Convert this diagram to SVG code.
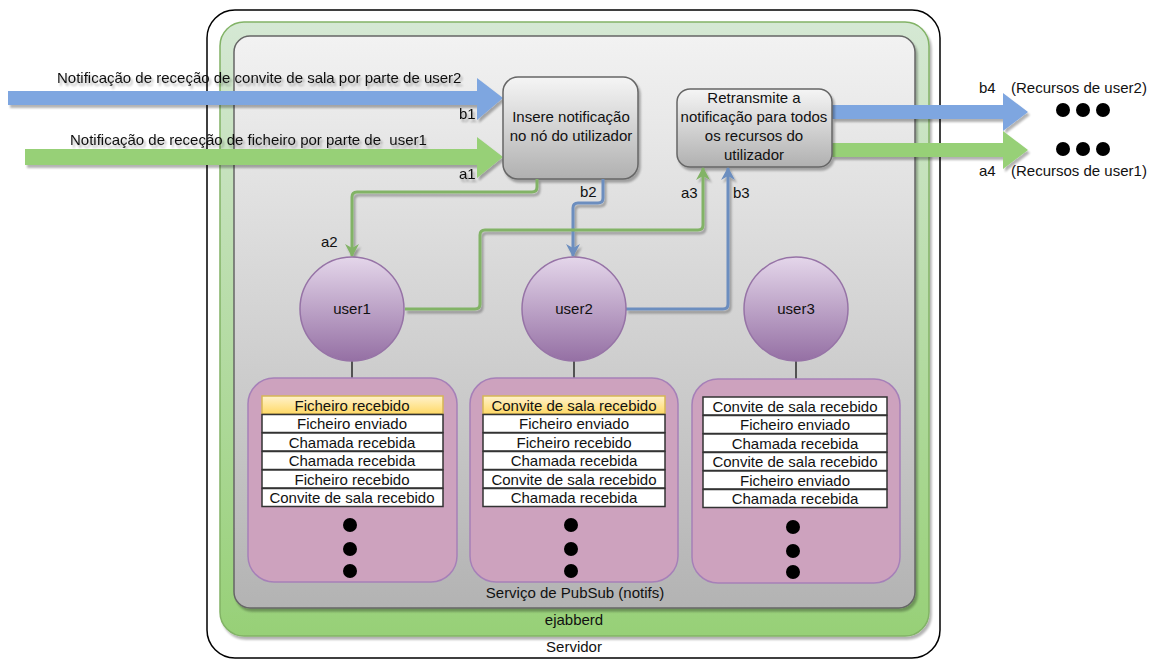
<svg xmlns="http://www.w3.org/2000/svg" width="1153" height="659" viewBox="0 0 1153 659">
<defs>
<linearGradient id="gPub" x1="0" y1="0" x2="0" y2="1"><stop offset="0" stop-color="#f2f2f2"/><stop offset="1" stop-color="#b3b3b3"/></linearGradient>
<linearGradient id="gEj" x1="0" y1="0" x2="0" y2="1"><stop offset="0" stop-color="#d5e8d4"/><stop offset="1" stop-color="#97d077"/></linearGradient>
<linearGradient id="gBox" x1="0" y1="0" x2="0" y2="1"><stop offset="0" stop-color="#f5f5f5"/><stop offset="1" stop-color="#b0b0b0"/></linearGradient>
<linearGradient id="gUser" x1="0" y1="0" x2="0" y2="1"><stop offset="0" stop-color="#e4d6ea"/><stop offset="1" stop-color="#9570a4"/></linearGradient>
<linearGradient id="gYel" x1="0" y1="0" x2="0" y2="1"><stop offset="0" stop-color="#fff2cc"/><stop offset="1" stop-color="#ffd966"/></linearGradient>
<filter id="sh" x="-10%" y="-10%" width="130%" height="130%">
<feGaussianBlur in="SourceAlpha" stdDeviation="1.2"/><feOffset dx="2" dy="3"/>
<feComponentTransfer><feFuncA type="linear" slope="0.3"/></feComponentTransfer>
<feMerge><feMergeNode/><feMergeNode in="SourceGraphic"/></feMerge></filter>
<marker id="mG" markerUnits="userSpaceOnUse" markerWidth="14" markerHeight="14" refX="12" refY="7" orient="auto"><path d="M0,0 L13,7 L0,14 L4,7 z" fill="#82b366"/></marker>
<marker id="mB" markerUnits="userSpaceOnUse" markerWidth="14" markerHeight="14" refX="12" refY="7" orient="auto"><path d="M0,0 L13,7 L0,14 L4,7 z" fill="#6c8ebf"/></marker>
<style>
text{font-family:"Liberation Sans",Arial,sans-serif;font-size:15px;fill:#111;}
.c{text-anchor:middle;}
.row{fill:#fff;stroke:#333;stroke-width:1.5;}
.yel{fill:url(#gYel);stroke:#d6b656;stroke-width:1.5;}
.list{fill:#cda2be;stroke:#a680b8;stroke-width:1.5;}
.user{fill:url(#gUser);stroke:#9673a6;stroke-width:1.5;}
.dot{fill:#000;}
.g{fill:none;stroke:#82b366;stroke-width:3;}
.b{fill:none;stroke:#6c8ebf;stroke-width:3;}
</style>
</defs>

<g id="servidor">
<rect x="207" y="10" width="733" height="648" rx="28" fill="#fff" stroke="#000" stroke-width="1.5"/>
<text class="c" x="574" y="652">Servidor</text>
</g>
<g id="ejabberd">
<rect x="220" y="22" width="709" height="614" rx="24" fill="url(#gEj)" stroke="#82b366" stroke-width="1.5" filter="url(#sh)"/>
<text class="c" x="574" y="625">ejabberd</text>
</g>
<g id="pubsub">
<rect x="234" y="36" width="681" height="572" rx="16" fill="url(#gPub)" stroke="#666" stroke-width="1.5" filter="url(#sh)"/>
<text class="c" x="575" y="598">Serviço de PubSub (notifs)</text>
</g>

<g id="arrow-b1" filter="url(#sh)">
<polygon points="8,91 477,91 477,78 503,98 477,120 477,105 8,105" fill="#7ea6e0"/>
<text x="57" y="83">Notificação de receção de convite de sala por parte de user2</text>
<text x="459" y="119">b1</text>
</g>
<g id="arrow-a1" filter="url(#sh)">
<polygon points="25,149 477,149 477,137 503,157 477,178 477,165 25,165" fill="#97d077"/>
<text x="70" y="145">Notificação de receção de ficheiro por parte de&#160; user1</text>
<text x="459" y="179">a1</text>
</g>
<g id="arrow-b4" filter="url(#sh)">
<polygon points="832,105 1003,105 1003,93 1028,112 1003,131 1003,119 832,119" fill="#7ea6e0"/>
</g>
<g id="arrow-a4" filter="url(#sh)">
<polygon points="832,143 1003,143 1003,131 1028,150 1003,169 1003,157 832,157" fill="#97d077"/>
</g>

<g id="insere">
<rect x="503" y="77" width="135" height="102" rx="15" fill="url(#gBox)" stroke="#666" stroke-width="1.5" filter="url(#sh)"/>
<text class="c" x="571" y="122">Insere notificação</text>
<text class="c" x="571" y="141">no nó do utilizador</text>
</g>
<g id="retransmite">
<rect x="677" y="89" width="155" height="78" rx="13" fill="url(#gBox)" stroke="#666" stroke-width="1.5" filter="url(#sh)"/>
<text class="c" x="754" y="103">Retransmite a</text>
<text class="c" x="754" y="122">notificação para todos</text>
<text class="c" x="754" y="141">os recursos do</text>
<text class="c" x="754" y="160">utilizador</text>
</g>

<g id="recursos">
<text x="979" y="93">b4</text>
<text x="1011" y="93">(Recursos de user2)</text>
<circle class="dot" cx="1063" cy="110" r="7"/><circle class="dot" cx="1083" cy="110" r="7"/><circle class="dot" cx="1103" cy="110" r="7"/>
<circle class="dot" cx="1063" cy="149" r="7"/><circle class="dot" cx="1083" cy="149" r="7"/><circle class="dot" cx="1103" cy="149" r="7"/>
<text x="979" y="176">a4</text>
<text x="1011" y="176">(Recursos de user1)</text>
</g>

<g id="connectors">
<g filter="url(#sh)">
<path class="g" d="M537,179 V187 Q537,192 532,192 H357 Q352,192 352,197 V256" marker-end="url(#mG)"/>
<path class="b" d="M603,179 V198 Q603,203 598,203 H578 Q573,203 573,208 V256" marker-end="url(#mB)"/>
<path class="g" d="M405,309 H475 Q480,309 480,304 V235 Q480,230 485,230 H698 Q703,230 703,225 V168" marker-end="url(#mG)"/>
<path class="b" d="M626,309 H723 Q728,309 728,304 V168" marker-end="url(#mB)"/>
</g>
<line x1="352" y1="361" x2="352" y2="378" stroke="#000" stroke-width="1.2"/>
<line x1="574" y1="361" x2="574" y2="378" stroke="#000" stroke-width="1.2"/>
<line x1="796" y1="361" x2="796" y2="379" stroke="#000" stroke-width="1.2"/>
<text x="321" y="247">a2</text>
<text x="580" y="197">b2</text>
<text x="681" y="198">a3</text>
<text x="733" y="198">b3</text>
</g>

<g id="user1">
<circle class="user" cx="352" cy="309" r="52"/>
<text class="c" x="352" y="314">user1</text>
</g>
<g id="user2">
<circle class="user" cx="574" cy="309" r="52"/>
<text class="c" x="574" y="314">user2</text>
</g>
<g id="user3">
<circle class="user" cx="796" cy="309" r="52"/>
<text class="c" x="796" y="314">user3</text>
</g>

<g id="list1">
<rect class="list" x="248" y="378" width="209" height="204" rx="26"/>
<rect class="yel" x="262" y="396" width="181" height="18"/>
<rect class="row" x="262" y="414.5" width="181" height="18"/>
<rect class="row" x="262" y="433" width="181" height="18"/>
<rect class="row" x="262" y="451.5" width="181" height="18"/>
<rect class="row" x="262" y="470" width="181" height="18"/>
<rect class="row" x="262" y="488.5" width="181" height="18"/>
<text class="c" x="352" y="410.5">Ficheiro recebido</text>
<text class="c" x="352" y="429">Ficheiro enviado</text>
<text class="c" x="352" y="447.5">Chamada recebida</text>
<text class="c" x="352" y="466">Chamada recebida</text>
<text class="c" x="352" y="484.5">Ficheiro recebido</text>
<text class="c" x="352" y="503">Convite de sala recebido</text>
<circle class="dot" cx="350" cy="525" r="7"/><circle class="dot" cx="350" cy="549" r="7"/><circle class="dot" cx="350" cy="571" r="7"/>
</g>
<g id="list2">
<rect class="list" x="470" y="378" width="208" height="204" rx="26"/>
<rect class="yel" x="483" y="396" width="182" height="18"/>
<rect class="row" x="483" y="414.5" width="182" height="18"/>
<rect class="row" x="483" y="433" width="182" height="18"/>
<rect class="row" x="483" y="451.5" width="182" height="18"/>
<rect class="row" x="483" y="470" width="182" height="18"/>
<rect class="row" x="483" y="488.5" width="182" height="18"/>
<text class="c" x="574" y="410.5">Convite de sala recebido</text>
<text class="c" x="574" y="429">Ficheiro enviado</text>
<text class="c" x="574" y="447.5">Ficheiro recebido</text>
<text class="c" x="574" y="466">Chamada recebida</text>
<text class="c" x="574" y="484.5">Convite de sala recebido</text>
<text class="c" x="574" y="503">Chamada recebida</text>
<circle class="dot" cx="571" cy="525" r="7"/><circle class="dot" cx="571" cy="549" r="7"/><circle class="dot" cx="571" cy="571" r="7"/>
</g>
<g id="list3">
<rect class="list" x="692" y="379" width="208" height="204" rx="26"/>
<rect class="row" x="703" y="397" width="184" height="18"/>
<rect class="row" x="703" y="415.5" width="184" height="18"/>
<rect class="row" x="703" y="434" width="184" height="18"/>
<rect class="row" x="703" y="452.5" width="184" height="18"/>
<rect class="row" x="703" y="471" width="184" height="18"/>
<rect class="row" x="703" y="489.5" width="184" height="18"/>
<text class="c" x="795" y="411.5">Convite de sala recebido</text>
<text class="c" x="795" y="430">Ficheiro enviado</text>
<text class="c" x="795" y="448.5">Chamada recebida</text>
<text class="c" x="795" y="467">Convite de sala recebido</text>
<text class="c" x="795" y="485.5">Ficheiro enviado</text>
<text class="c" x="795" y="504">Chamada recebida</text>
<circle class="dot" cx="793" cy="527" r="7"/><circle class="dot" cx="793" cy="551" r="7"/><circle class="dot" cx="793" cy="572" r="7"/>
</g>
</svg>
